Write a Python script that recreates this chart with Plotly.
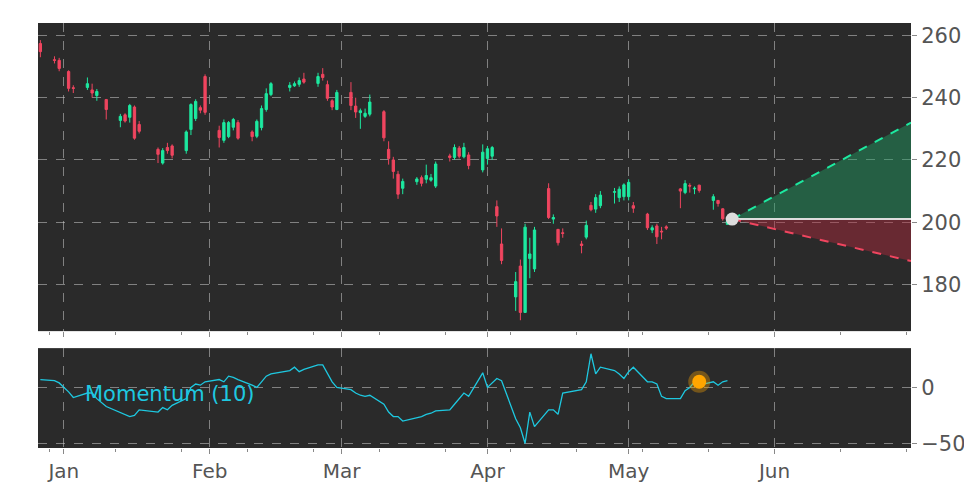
import pandas as pd
import plotly.graph_objects as go
from plotly.subplots import make_subplots

holidays = ['2025-01-09', '2025-01-20', '2025-02-17', '2025-04-18']
dates = [d for d in pd.bdate_range('2024-12-27', '2025-05-22') if d.strftime('%Y-%m-%d') not in holidays and d.strftime('%m-%d') not in ('12-25', '01-01')]

opens = [257.4, 252.2, 252.0, 248.4, 243.2, 243.3, 242.5, 240.7, 239.4, 232.7, 234.5, 233.7, 237.0, 231.4,
         223.4, 219.0, 224.0, 224.5, 223.0, 229.8, 233.3, 236.8, 246.8,
         229.5, 226.3, 227.5, 230.5, 232.0, 229.0, 227.6, 230.4, 236.2, 241.0, 243.3, 243.8, 244.3, 246.0,
         244.6, 247.5, 244.2, 239.0, 236.2,
         241.7, 237.3, 235.2, 234.0, 234.7, 235.5, 223.4, 220.0, 215.4, 210.9, 213.0, 214.3, 213.8, 213.5,
         211.6, 221.3, 220.8, 223.8, 221.0, 221.6, 216.8,
         220.5, 221.2, 205.0, 193.0, 176.0, 185.9, 171.0, 188.3, 185.0, 210.8, 201.0, 197.7, 196.6,
         193.0, 195.2, 205.4, 204.2, 205.3, 209.6, 207.9, 208.2,
         208.2, 205.3, 202.6, 197.5, 198.8, 197.1, 198.5, 210.7, 209.5, 211.8, 210.7, 211.9,
         207.0, 207.0, 204.3, 199.3]
closes = [254.8, 252.0, 249.4, 243.0, 243.0, 244.5, 241.5, 242.0, 236.2, 234.0, 232.5, 237.5, 227.0, 229.2,
          221.8, 223.0, 223.0, 221.5, 229.0, 237.8, 238.8, 236.0, 235.3,
          227.2, 232.0, 232.0, 233.0, 227.0, 227.5, 232.4, 236.5, 241.3, 244.5, 244.0, 244.5, 245.5, 245.0,
          246.8, 246.5, 239.8, 237.0, 241.7,
          237.5, 235.4, 235.8, 235.0, 238.6, 227.1, 220.5, 216.3, 209.0, 213.1, 213.9, 212.5, 215.0, 214.3,
          218.7, 220.8, 224.0, 221.2, 224.0, 218.2, 222.5,
          223.6, 224.0, 202.0, 187.7, 180.9, 171.0, 198.4, 189.8, 197.5, 201.5, 201.5, 193.4, 196.4,
          192.5, 199.0, 204.0, 207.9, 208.7, 209.8, 210.6, 212.0,
          212.8, 204.5, 198.2, 198.2, 195.3, 196.9, 198.1, 210.0, 212.4, 211.6, 210.9, 210.2,
          208.2, 206.0, 201.1, 200.4]
highs = [258.5, 253.3, 252.8, 248.8, 244.0, 246.5, 244.5, 242.8, 239.6, 234.8, 235.0, 238.0, 237.5, 232.5,
         224.0, 223.8, 225.5, 225.0, 229.5, 238.2, 239.5, 237.5, 247.5,
         231.0, 233.0, 232.5, 233.5, 232.8, 229.5, 233.0, 237.5, 243.0, 245.0, 245.0, 245.2, 246.5, 248.0,
         248.0, 249.5, 245.5, 239.5, 242.5,
         245.0, 240.0, 236.5, 236.5, 241.0, 236.0, 226.0, 221.0, 216.5, 214.0, 214.5, 215.0, 218.5, 215.5,
         219.5, 222.0, 225.0, 224.5, 225.5, 222.5, 225.0,
         224.5, 224.5, 207.0, 198.0, 184.0, 188.0, 199.5, 195.0, 198.5, 212.5, 202.5, 196.0, 198.0,
         194.0, 200.5, 206.5, 209.0, 210.0, 211.0, 211.5, 212.5,
         213.8, 206.5, 203.0, 199.0, 199.5, 198.5, 199.0, 211.0, 213.5, 212.5, 211.5, 212.0,
         209.0, 207.0, 204.5, 201.5]
lows = [253.0, 251.0, 248.5, 242.0, 241.5, 242.5, 240.0, 239.0, 233.0, 230.5, 232.0, 232.0, 226.5, 228.5,
        219.0, 218.5, 222.0, 220.5, 222.0, 228.0, 232.5, 235.0, 234.5,
        224.0, 225.5, 227.0, 229.5, 226.5, 226.0, 227.0, 229.5, 235.5, 240.5, 242.0, 243.5, 243.5, 244.5,
        243.5, 245.5, 239.0, 236.0, 236.0,
        236.0, 233.5, 230.0, 233.5, 234.0, 226.0, 218.5, 214.0, 207.5, 209.0, 212.0, 211.5, 212.5, 213.0,
        211.0, 219.5, 220.0, 220.5, 220.5, 217.0, 216.0,
        218.5, 220.0, 198.5, 186.5, 171.5, 168.5, 176.0, 182.0, 184.0, 201.0, 199.5, 192.5, 195.0,
        190.0, 194.5, 203.5, 203.0, 204.5, 206.0, 206.5, 207.0,
        207.0, 203.0, 197.5, 196.5, 193.0, 194.5, 197.5, 204.5, 209.0, 209.5, 209.0, 209.5,
        204.0, 205.0, 200.5, 199.5]

momentum = [7, 6, 4, -4, -9, -5, -5, -10, -17, -22, -24, -26, -25, -20,
            -22, -18, -20, -16, -10, 0, 3, 2, 5,
            7, 5, 10, 9, 7, 2, 0, 5, 10, 12, 15, 18, 14, 16,
            20, 20, 12, 5, 0,
            -2, -5, -7, -8, -7, -15, -22, -26, -26, -30, -27, -26, -24, -23,
            -21, -20, -15, -10, -5, -8, 13,
            0, 4, 8, 6, -28, -36, -50, -22, -35, -20, -20, -24, -5,
            -2, 5, 30, 12, 18, 15, 12, 8, 14,
            18, 5, 5, 3, -8, -10, -10, -3, 0, 5, 2, 5,
            2, 5, 6, 2]

proj_dates = ['2025-05-23', '2025-06-30']
proj_mid = [201, 201]
proj_up = [201, 232]
proj_down = [201, 187.5]
mom_marker_date = '2025-05-16'
mom_marker_value = 5

green = '#1de9a0'
red = '#f0455f'
grid = 'rgba(200,200,200,0.55)'

fig = make_subplots(rows=2, cols=1, shared_xaxes=True, row_heights=[0.75, 0.25], vertical_spacing=0.04)

fig.add_trace(go.Candlestick(x=dates, open=opens, high=highs, low=lows, close=closes,
                             increasing=dict(line=dict(color=green, width=1), fillcolor=green),
                             decreasing=dict(line=dict(color=red, width=1), fillcolor=red),
                             whiskerwidth=0, showlegend=False), row=1, col=1)

fig.add_trace(go.Scatter(x=proj_dates, y=proj_mid, mode='lines', line=dict(color='#dddddd', width=2),
                         showlegend=False), row=1, col=1)
fig.add_trace(go.Scatter(x=proj_dates, y=proj_up, mode='lines', line=dict(color=green, width=2, dash='dash'),
                         fill='tonexty', fillcolor='rgba(30,160,100,0.45)', showlegend=False), row=1, col=1)
fig.add_trace(go.Scatter(x=proj_dates, y=proj_mid, mode='lines', line=dict(color='#dddddd', width=2),
                         showlegend=False), row=1, col=1)
fig.add_trace(go.Scatter(x=proj_dates, y=proj_down, mode='lines', line=dict(color=red, width=2, dash='dash'),
                         fill='tonexty', fillcolor='rgba(180,40,60,0.45)', showlegend=False), row=1, col=1)
fig.add_trace(go.Scatter(x=proj_dates[:1], y=proj_mid[:1], mode='markers',
                         marker=dict(color='#dddddd', size=13), showlegend=False), row=1, col=1)

fig.add_trace(go.Scatter(x=dates, y=momentum, mode='lines', line=dict(color='#1ec8e0', width=1.3),
                         showlegend=False), row=2, col=1)
fig.add_trace(go.Scatter(x=[mom_marker_date], y=[mom_marker_value], mode='markers',
                         marker=dict(color='orange', size=14, line=dict(color='rgba(255,165,0,0.35)', width=8)),
                         showlegend=False), row=2, col=1)

fig.add_annotation(x='2025-01-05', y=-6, text='Momentum (10)', showarrow=False, xanchor='left',
                   font=dict(color='#1ec8e0', size=21), xref='x2', yref='y2')

fig.update_xaxes(range=['2024-12-26 12:00', '2025-06-30'], rangeslider_visible=False, automargin=False,
                 showgrid=True, gridcolor=grid, griddash='dash', dtick='M1', tickformat='%b',
                 ticks='outside', ticklen=5, tickcolor='#888', zeroline=False,
                 minor=dict(ticks='outside', ticklen=3, dtick=86400000 * 14, tickcolor='#888'),
                 tickfont=dict(size=20, color='#555'))
fig.update_yaxes(side='right', showgrid=True, gridcolor=grid, griddash='dash', zeroline=False, automargin=False,
                 ticks='outside', ticklen=5, tickcolor='#888', tickfont=dict(size=21, color='#555'))
fig.update_yaxes(range=[165, 264], dtick=20, row=1, col=1)
fig.update_yaxes(range=[-54, 35], tickvals=[-50, 0], row=2, col=1)

fig.update_layout(width=972, height=486, paper_bgcolor='white', plot_bgcolor='#2a2a2a',
                  margin=dict(l=30, r=69, t=15, b=46, autoexpand=False), font=dict(family='DejaVu Sans'))
fig.update_layout(yaxis=dict(domain=[0.275, 1.0]), yaxis2=dict(domain=[0.0, 0.235]))

fig.write_html('out.html')
